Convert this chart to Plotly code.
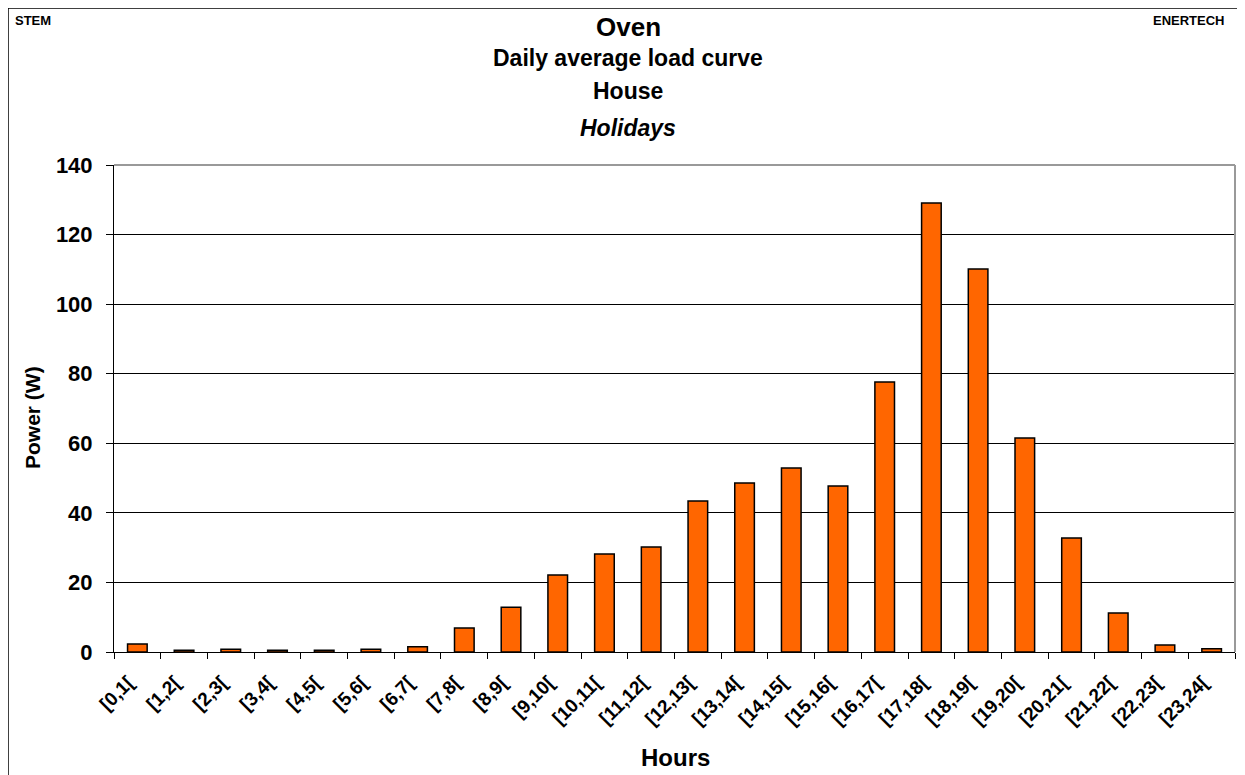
import plotly.graph_objects as go

hours = ["[0,1[", "[1,2[", "[2,3[", "[3,4[", "[4,5[", "[5,6[", "[6,7[", "[7,8[",
         "[8,9[", "[9,10[", "[10,11[", "[11,12[", "[12,13[", "[13,14[", "[14,15[",
         "[15,16[", "[16,17[", "[17,18[", "[18,19[", "[19,20[", "[20,21[", "[21,22[",
         "[22,23[", "[23,24["]
power = [2.3, 0.5, 0.8, 0.5, 0.5, 0.8, 1.5, 6.9, 12.9, 22.1, 28.2, 30.2, 43.4, 48.6,
         52.9, 47.7, 77.6, 129.1, 110.1, 61.5, 32.8, 11.2, 2.0, 0.9]
y_ticks = [0, 20, 40, 60, 80, 100, 120, 140]

OFF = 8  # page body margin
W, H = 1245 - OFF, 775 - OFF
L, R, T, B = 114, 1235, 165, 652  # plot area in screenshot pixels
FONT = "Liberation Sans, Arial, sans-serif"


def px(x):
    return (x - L) / (R - L)


def py(y):
    return (B - y) / (B - T)


fig = go.Figure(go.Bar(
    x=hours, y=power, width=0.42,
    marker=dict(color="#FF6600", line=dict(color="#000000", width=1.5)),
))

fig.update_layout(
    width=W, height=H,
    margin=dict(l=L - OFF, r=W - (R - OFF), t=T - OFF, b=H - (B - OFF)),
    paper_bgcolor="white", plot_bgcolor="white",
    showlegend=False, bargap=0.58,
    font=dict(family=FONT, color="black"),
)

fig.update_xaxes(
    type="category", showgrid=False, showline=True, linecolor="black", linewidth=1,
    ticks="outside", tickson="boundaries", ticklen=6, tickcolor="black",
    tickangle=-45, ticklabelstandoff=11, ticklabelshift=-9,
    tickfont=dict(family=FONT, size=19, weight="bold", color="black"),
)
fig.update_yaxes(
    range=[0, 140], tickvals=y_ticks, showgrid=True, gridcolor="black", gridwidth=1,
    showline=True, linecolor="black", linewidth=1, ticks="outside", ticklen=7,
    tickcolor="black", zeroline=False, ticklabelstandoff=9,
    tickfont=dict(family=FONT, size=22, weight="bold", color="black"),
)

# plot area border (gray top and right)
fig.add_shape(type="line", xref="paper", yref="paper", x0=0, x1=1, y0=1, y1=1,
              line=dict(color="#999999", width=2), layer="above")
fig.add_shape(type="line", xref="paper", yref="paper", x0=1, x1=1, y0=0, y1=1,
              line=dict(color="#999999", width=2), layer="above")
# outer frame
fig.add_shape(type="line", xref="paper", yref="paper", x0=px(8), x1=px(1250), y0=py(8), y1=py(8),
              line=dict(color="black", width=1.5))
fig.add_shape(type="line", xref="paper", yref="paper", x0=px(8), x1=px(8), y0=py(8), y1=py(780),
              line=dict(color="black", width=1.5))

ann = [
    ("STEM", 13, 20, 13, "left", False),
    ("ENERTECH", 1227, 20, 13, "right", False),
    ("Oven", 628, 27, 26, "center", False),
    ("Daily average load curve", 628, 58, 23, "center", False),
    ("House", 628, 91, 23, "center", False),
    ("Holidays", 628, 128, 23, "center", True),
    ("Hours", 675, 757, 24, "center", False),
]
for text, x, y, size, align, italic in ann:
    fig.add_annotation(
        text=text, x=px(x), y=py(y), xref="paper", yref="paper", showarrow=False,
        xanchor=align, yanchor="middle",
        font=dict(family=FONT, size=size, weight="bold", style="italic" if italic else "normal",
                  color="black"),
    )
fig.add_annotation(
    text="Power (W)", x=px(32), y=py(418), xref="paper", yref="paper", showarrow=False,
    textangle=-90, xanchor="center", yanchor="middle",
    font=dict(family=FONT, size=21, weight="bold", color="black"),
)

fig.write_html("out.html")
